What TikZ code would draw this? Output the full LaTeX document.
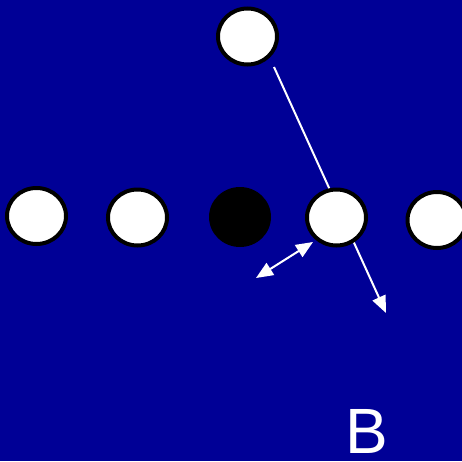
\documentclass[tikz,border=0pt]{standalone}
\usepackage{fontspec}
\setmainfont{Liberation Sans}
\usetikzlibrary{arrows.meta,shapes.geometric}
\definecolor{field}{RGB}{0,0,150}
\tikzset{
  player/.style={ellipse, draw=black, line width=4pt, fill=white,
    minimum width=59pt, minimum height=56pt, inner sep=0pt},
  ball/.style={ellipse, fill=black, minimum width=62pt, minimum height=60pt, inner sep=0pt},
  run/.style={draw=white, line width=2pt, -{Triangle[length=17pt,width=14pt]}},
  pass/.style={draw=white, line width=2pt, {Triangle[length=17pt,width=14pt]}-{Triangle[length=17pt,width=14pt]}}
}
\begin{document}
\begin{tikzpicture}[x=1pt,y=-1pt]
  \fill[field] (0,0) rectangle (462,461);
  \useasboundingbox (0,0) rectangle (462,461);
  % routes (drawn first so the markers sit on top)
  \coordinate (runstart) at (274,67);
  \coordinate (runend) at (386,313);
  \coordinate (passA) at (313,242);
  \coordinate (passB) at (256,278);
  \draw[run] (runstart) -- (runend);
  \draw[pass] (passA) -- (passB);
  % markers
  \node[player] (top) at (247.5,36.5) {};
  \node[player] (p1) at (36.5,216) {};
  \node[player] (p2) at (137.5,217.5) {};
  \node[ball] (b) at (240,217) {};
  \node[player] (p3) at (336.5,217.5) {};
  \node[player] (p4) at (437,220) {};
  \node[text=white, font=\fontsize{64}{64}\selectfont, inner sep=0pt, anchor=base] (lbl) at (366.5,453) {B};
\end{tikzpicture}
\end{document}
